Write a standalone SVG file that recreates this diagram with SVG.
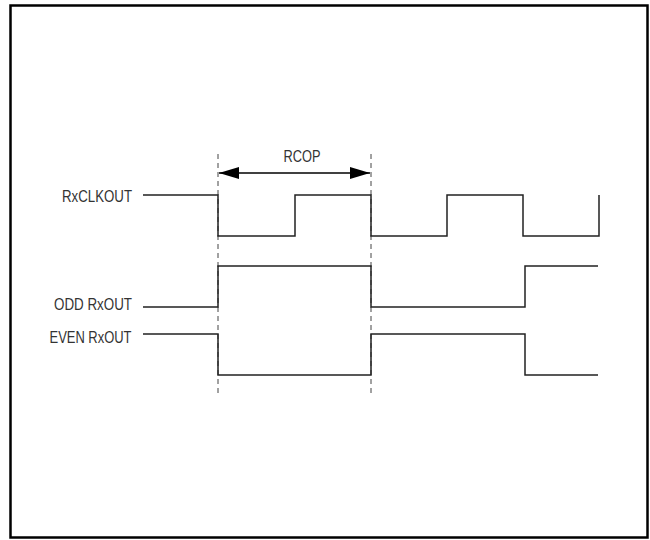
<svg xmlns="http://www.w3.org/2000/svg" width="650" height="540" viewBox="0 0 650 540">
<defs>
<style>
.t{font-family:"Liberation Sans",Arial,sans-serif;font-size:16px;fill:#333}
.w{fill:none;stroke:#222;stroke-width:1.5}
.d{fill:none;stroke:#444;stroke-width:1;stroke-dasharray:5 4}
</style>
<marker id="ah" viewBox="0 0 20 12" refX="20" refY="6" markerWidth="20" markerHeight="12" markerUnits="userSpaceOnUse" orient="auto-start-reverse">
<path d="M0,0 L20,6 L0,12 Z" fill="#000"/>
</marker>
</defs>
<rect x="0" y="0" width="650" height="540" fill="#fff"/>
<rect x="10.5" y="5.5" width="637" height="532" fill="none" stroke="#000" stroke-width="2.5"/>
<g id="connectors">
<line class="d" x1="218" y1="154" x2="218" y2="397"/>
<line class="d" x1="371" y1="154" x2="371" y2="397"/>
<line x1="219" y1="173" x2="370" y2="173" stroke="#000" stroke-width="1.5" marker-start="url(#ah)" marker-end="url(#ah)"/>
</g>
<g id="rcop"><text class="t" x="283.5" y="162" textLength="37" lengthAdjust="spacingAndGlyphs">RCOP</text></g>
<g id="rxclkout">
<text class="t" x="62" y="201.5" textLength="70" lengthAdjust="spacingAndGlyphs">RxCLKOUT</text>
<path class="w" d="M143,195 H218 V236 H295 V195 H371 V236 H447 V195 H523 V236 H599 V195"/>
</g>
<g id="odd">
<text class="t" x="54" y="310" textLength="78" lengthAdjust="spacingAndGlyphs">ODD RxOUT</text>
<path class="w" d="M143,307 H218 V266 H371 V307 H525 V266 H598"/>
</g>
<g id="even">
<text class="t" x="49.5" y="342.5" textLength="82" lengthAdjust="spacingAndGlyphs">EVEN RxOUT</text>
<path class="w" d="M143,334 H218 V375 H371 V334 H525 V375 H598"/>
</g>
</svg>
